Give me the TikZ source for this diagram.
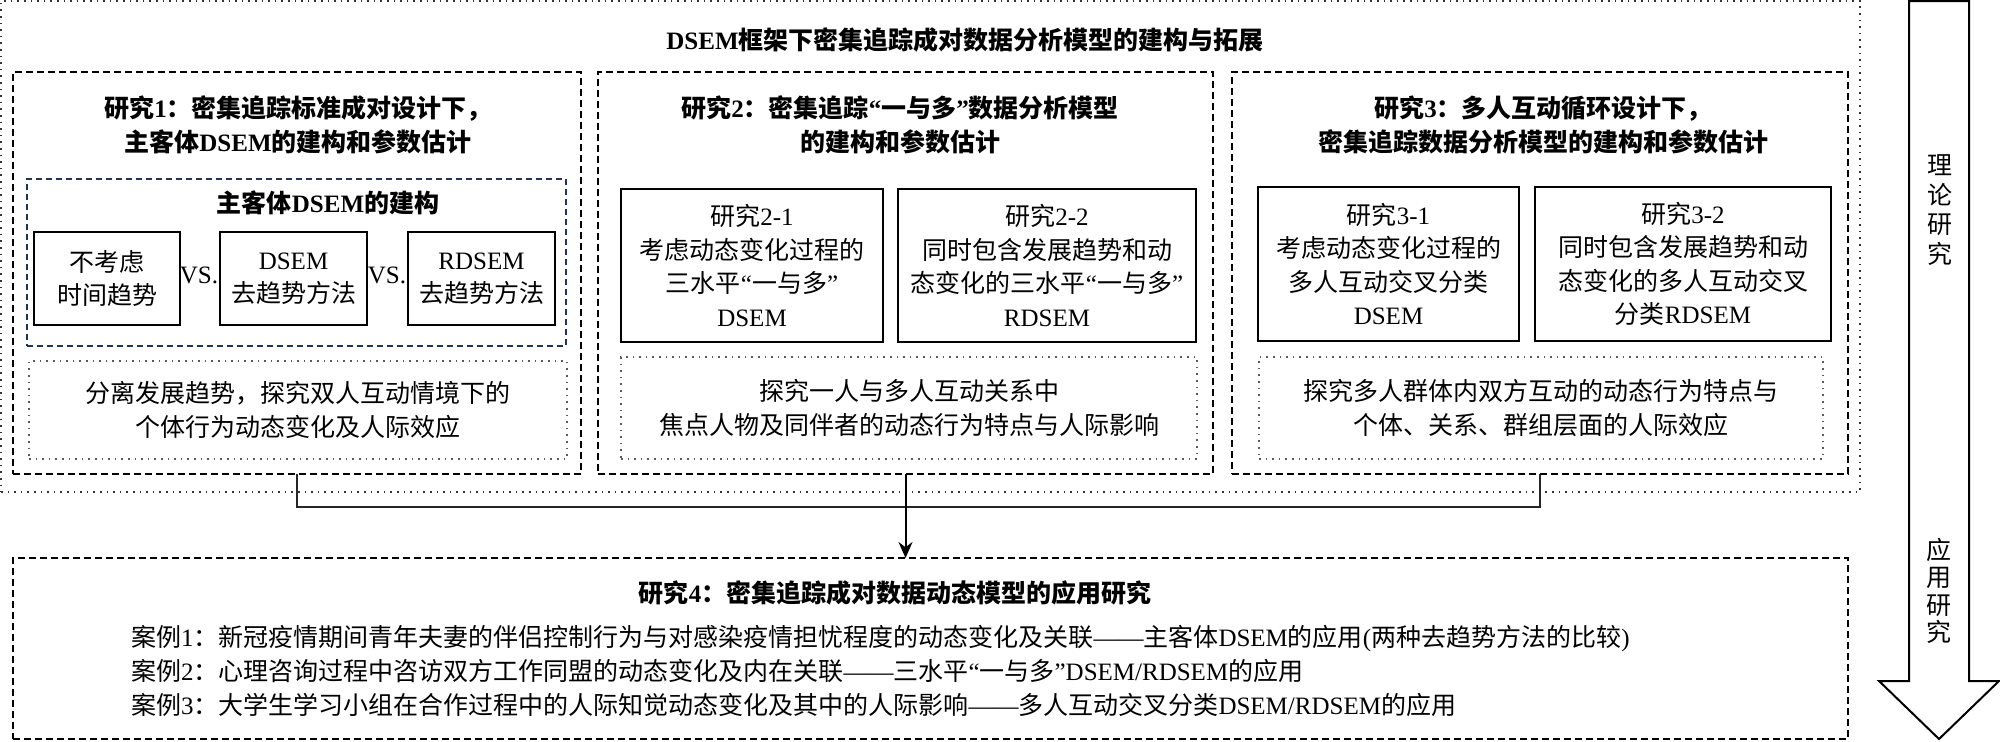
\documentclass[tikz,border=0pt]{standalone}
\usepackage{fontspec}
\setmainfont{Liberation Serif}
\newfontfamily\cjkfont{Noto Sans CJK SC}
\XeTeXinterchartokenstate=1
\newXeTeXintercharclass\hanclass
\newcount\hanidx
\hanidx="3000 \loop\XeTeXcharclass\hanidx=\hanclass\advance\hanidx by 1 \ifnum\hanidx<"3040 \repeat
\hanidx="4E00 \loop\XeTeXcharclass\hanidx=\hanclass\advance\hanidx by 1 \ifnum\hanidx<"A000 \repeat
\hanidx="FF00 \loop\XeTeXcharclass\hanidx=\hanclass\advance\hanidx by 1 \ifnum\hanidx<"FFF0 \repeat
\XeTeXcharclass"201C=0 \XeTeXcharclass"201D=0 \XeTeXcharclass"2014=0
\XeTeXinterchartoks 0 \hanclass={\cjkfont}
\XeTeXinterchartoks 4095 \hanclass={\cjkfont}
\XeTeXinterchartoks \hanclass 0={\rmfamily}
\XeTeXinterchartoks 4095 0={\rmfamily}
\usepackage{tikz}
\usetikzlibrary{positioning, arrows.meta}
\definecolor{navy}{HTML}{22335A}

\begin{document}
\begin{tikzpicture}[
  x=0.5pt, y=-0.5pt,
  every node/.style={inner sep=0pt, outer sep=0pt, align=center, font=\fontsize{12.5}{16.7}\selectfont},
  frame/.style={draw=black!80, line width=0.6pt, dash pattern=on 0.8pt off 2.5pt},
  study/.style={draw, line width=0.8pt, dash pattern=on 3.5pt off 2pt},
  build/.style={draw=navy, line width=0.8pt, dash pattern=on 3pt off 2pt},
  finding/.style={draw=black!65, line width=0.7pt, dash pattern=on 0.8pt off 2.5pt},
  model/.style={draw, line width=0.8pt},
  title/.style={font=\fontsize{12.5}{17}\selectfont\bfseries},
  link/.style={line width=0.8pt, draw=black!85},
  arrow/.style={-{Stealth[length=8pt, width=7pt]}, line width=1pt},
  bigarrow/.style={draw, line width=1pt, line join=miter}
]
\useasboundingbox (0,0) rectangle (2000,741);
\node[frame, minimum width=929.5pt, minimum height=245.5pt] (frame) at (930.5,246.5) {};
\node[title] (main) at (965,40) {DSEM框架下密集追踪成对数据分析模型的建构与拓展};

\node[study, minimum width=284pt, minimum height=201pt] (s1) at (297,273) {};
\node[title] (t1) at (298,125) {研究1：密集追踪标准成对设计下，\\主客体DSEM的建构和参数估计};
\node[build, minimum width=269.5pt, minimum height=83.5pt] (dsem) at (296.5,262.5) {};
\node[title] (tdsem) at (328,203) {主客体DSEM的建构};
\node[model, minimum width=73pt, minimum height=46.5pt] (notrend) at (107,278.5) {不考虑\\时间趋势};
\node[model, minimum width=73.5pt, minimum height=46.5pt] (detrend) at (293.5,278.5) {DSEM\\去趋势方法};
\node[model, minimum width=73.5pt, minimum height=46.5pt] (rdetrend) at (481.5,278.5) {RDSEM\\去趋势方法};
\node (vs1) at (199,275) {VS.};
\node (vs2) at (387,275) {VS.};
\node[finding, minimum width=269pt, minimum height=49pt] (f1) at (298,410) {分离发展趋势，探究双人互动情境下的\\个体行为动态变化及人际效应};

\node[study, minimum width=307.5pt, minimum height=201pt] (s2) at (905.5,273) {};
\node[title] (t2) at (900,125) {研究2：密集追踪“一与多”数据分析模型\\的建构和参数估计};
\node[model, minimum width=131pt, minimum height=76.5pt] (s21) at (752,265.5) {研究2-1\\考虑动态变化过程的\\三水平“一与多”\\DSEM};
\node[model, minimum width=149pt, minimum height=76.5pt] (s22) at (1047,265.5) {研究2-2\\同时包含发展趋势和动\\态变化的三水平“一与多”\\RDSEM};
\node[finding, minimum width=288pt, minimum height=51pt] (f2) at (909,408) {探究一人与多人互动关系中\\焦点人物及同伴者的动态行为特点与人际影响};

\node[study, minimum width=308pt, minimum height=201pt] (s3) at (1540,273) {};
\node[title] (t3) at (1543,125) {研究3：多人互动循环设计下，\\密集追踪数据分析模型的建构和参数估计};
\node[model, minimum width=130.5pt, minimum height=77pt] (s31) at (1388.5,264) {研究3-1\\考虑动态变化过程的\\多人互动交叉分类\\DSEM};
\node[model, minimum width=148pt, minimum height=77pt] (s32) at (1683,264) {研究3-2\\同时包含发展趋势和动\\态变化的多人互动交叉\\分类RDSEM};
\node[finding, minimum width=282pt, minimum height=51pt] (f3) at (1541,408) {探究多人群体内双方互动的动态行为特点与\\个体、关系、群组层面的人际效应};

\node[study, minimum width=917.5pt, minimum height=90.5pt] (s4) at (930.5,648.5) {};
\node[title] (t4) at (895,593) {研究4：密集追踪成对数据动态模型的应用研究};
\node[align=left, anchor=west, font=\fontsize{12.5}{17}\selectfont] (cases) at (131,671) {案例1：新冠疫情期间青年夫妻的伴侣控制行为与对感染疫情担忧程度的动态变化及关联——主客体DSEM的应用(两种去趋势方法的比较)\\案例2：心理咨询过程中咨访双方工作同盟的动态变化及内在关联——三水平“一与多”DSEM/RDSEM的应用\\案例3：大学生学习小组在合作过程中的人际知觉动态变化及其中的人际影响——多人互动交叉分类DSEM/RDSEM的应用};

\draw[link] (s1.south) -- ++(0,33) -| (s3.south);
\draw[arrow] (s2.south) -- (s2.south |- s4.north);

\draw[bigarrow] (1909,1) -- (1969,1) -- (1969,681) -- (1999,681) -- (1939,739) -- (1879,681) -- (1909,681) -- cycle;
\node[font=\fontsize{12.5}{14.8}\selectfont] (theory) at (1940,210) {理\\论\\研\\究};
\node[font=\fontsize{12.5}{13.7}\selectfont] (applied) at (1939,591) {应\\用\\研\\究};
\end{tikzpicture}
\end{document}
